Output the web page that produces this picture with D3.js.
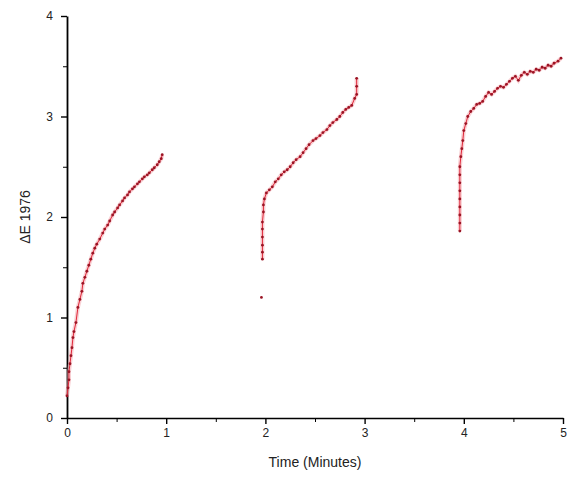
<!DOCTYPE html>
<html>
<head>
<meta charset="utf-8">
<script src="https://cdn.jsdelivr.net/npm/d3@7"></script>
<style>
  body { margin: 0; background: #fff; }
  svg { font-family: Arial, "Liberation Sans", sans-serif; }
</style>
</head>
<body>
<div id="chart"></div>
<script>
// first run (0 - 1 min)
const run1Time = [0.00, 0.01, 0.02, 0.02, 0.03, 0.04, 0.05, 0.06, 0.07, 0.09, 0.11, 0.13, 0.15, 0.16, 0.18, 0.20,
    0.22, 0.24, 0.26, 0.28, 0.30, 0.33, 0.36, 0.38, 0.41, 0.43, 0.46, 0.48, 0.51, 0.53, 0.56, 0.58, 0.61, 0.63,
    0.66, 0.68, 0.71, 0.73, 0.76, 0.78, 0.81, 0.83, 0.86, 0.88, 0.91, 0.93, 0.95, 0.96];
const run1Value = [0.22, 0.30, 0.38, 0.46, 0.54, 0.62, 0.70, 0.80, 0.86, 0.95, 1.10, 1.18, 1.26, 1.34, 1.40, 1.46,
    1.52, 1.58, 1.64, 1.69, 1.73, 1.78, 1.84, 1.88, 1.92, 1.96, 2.02, 2.05, 2.09, 2.12, 2.16, 2.19, 2.22, 2.25,
    2.28, 2.30, 2.33, 2.35, 2.38, 2.40, 2.42, 2.44, 2.47, 2.49, 2.52, 2.55, 2.58, 2.62];

// second run (2 - 3 min)
const run2Time = [1.96, 1.97, 1.97, 1.97, 1.97, 1.97, 1.97, 1.98, 1.98, 1.99, 2.01, 2.04, 2.07, 2.10, 2.13, 2.16,
    2.19, 2.22, 2.25, 2.28, 2.31, 2.35, 2.38, 2.41, 2.44, 2.48, 2.51, 2.55, 2.58, 2.62, 2.65, 2.68, 2.72, 2.75,
    2.78, 2.81, 2.84, 2.87, 2.90, 2.92, 2.92, 2.92];
const run2Value = [1.20, 1.58, 1.65, 1.72, 1.80, 1.88, 1.95, 2.05, 2.12, 2.18, 2.24, 2.27, 2.30, 2.35, 2.38, 2.42,
    2.45, 2.47, 2.50, 2.54, 2.57, 2.60, 2.64, 2.68, 2.72, 2.76, 2.78, 2.81, 2.84, 2.87, 2.91, 2.94, 2.97, 3.00,
    3.04, 3.07, 3.09, 3.11, 3.18, 3.22, 3.30, 3.38];

// third run (4 - 5 min)
const run3Time = [3.96, 3.96, 3.96, 3.96, 3.96, 3.96, 3.96, 3.96, 3.96, 3.97, 3.98, 3.99, 4.00, 4.02, 4.04, 4.07,
    4.10, 4.13, 4.16, 4.19, 4.22, 4.25, 4.28, 4.31, 4.34, 4.37, 4.40, 4.43, 4.46, 4.49, 4.52, 4.55, 4.58, 4.61,
    4.64, 4.67, 4.70, 4.73, 4.76, 4.79, 4.82, 4.85, 4.88, 4.91, 4.95, 4.98];
const run3Value = [1.86, 1.94, 2.02, 2.10, 2.18, 2.26, 2.34, 2.42, 2.50, 2.60, 2.68, 2.76, 2.86, 2.93, 3.00, 3.05,
    3.08, 3.12, 3.13, 3.15, 3.20, 3.24, 3.22, 3.25, 3.28, 3.30, 3.29, 3.32, 3.35, 3.38, 3.40, 3.36, 3.41, 3.44,
    3.42, 3.45, 3.44, 3.47, 3.46, 3.49, 3.48, 3.51, 3.50, 3.53, 3.55, 3.58];

const xTicks = [0, 1, 2, 3, 4, 5];
const yTicks = [0, 1, 2, 3, 4];

const width = 575, height = 481;
const margin = ({top: 16, right: 12, bottom: 63, left: 67});

const runs = [
    run1Time.map((t, i) => ({t, v: run1Value[i]})),
    run2Time.map((t, i) => ({t, v: run2Value[i]})),
    run3Time.map((t, i) => ({t, v: run3Value[i]}))
];

// the instrument drops a reading now and then: break the trace where the jump is big
function splitGaps(run) {
    const parts = [[run[0]]];
    for (let i = 1; i < run.length; i++) {
        if (Math.abs(run[i].v - run[i - 1].v) > 0.3) parts.push([]);
        parts[parts.length - 1].push(run[i]);
    }
    return parts.filter(p => p.length > 1);
}
const traces = runs.flatMap(splitGaps);

const x = d3.scaleLinear([0, 5], [margin.left, width - margin.right]);
const y = d3.scaleLinear([0, 4], [height - margin.bottom, margin.top]);

const svg = d3.select("#chart")
    .append("svg")
    .attr("width", width)
    .attr("height", height);

// minor ticks first, majors drawn over them
svg.append("g")
    .attr("transform", `translate(0,${height - margin.bottom})`)
    .call(d3.axisBottom(x).tickValues(d3.range(0.5, 5, 1)).tickSize(4).tickFormat(""))
    .call(g => g.select(".domain").remove());
svg.append("g")
    .attr("transform", `translate(${margin.left},0)`)
    .call(d3.axisLeft(y).tickValues(d3.range(0.5, 4, 1)).tickSize(4).tickFormat(""))
    .call(g => g.select(".domain").remove());

svg.append("g")
    .attr("transform", `translate(0,${height - margin.bottom})`)
    .call(d3.axisBottom(x).tickValues(xTicks).tickSize(6).tickPadding(4).tickSizeOuter(0).tickFormat(d3.format("d")))
    .call(g => g.select(".domain").attr("stroke-width", 1.6))
    .call(g => g.selectAll(".tick line").attr("stroke-width", 1.4))
    .call(g => g.selectAll("text").attr("font-size", 12).attr("fill", "#222"));

svg.append("g")
    .attr("transform", `translate(${margin.left},0)`)
    .call(d3.axisLeft(y).tickValues(yTicks).tickSize(6).tickPadding(8).tickSizeOuter(0).tickFormat(d3.format("d")))
    .call(g => g.select(".domain").attr("stroke-width", 1.8))
    .call(g => g.selectAll(".tick line").attr("stroke-width", 1.4))
    .call(g => g.selectAll("text").attr("font-size", 12).attr("fill", "#222"));

svg.append("text")
    .attr("x", (margin.left + width - margin.right) / 2)
    .attr("y", 467)
    .attr("text-anchor", "middle")
    .attr("font-size", 14)
    .attr("fill", "#222")
    .text("Time (Minutes)");

svg.append("text")
    .attr("transform", `translate(30,${(margin.top + height - margin.bottom) / 2}) rotate(-90)`)
    .attr("text-anchor", "middle")
    .attr("font-size", 14)
    .attr("fill", "#222")
    .text("ΔE 1976");

const line = d3.line().x(d => x(d.t)).y(d => y(d.v));

const plot = svg.append("g");

plot.selectAll("path.glow")
    .data(traces)
    .join("path")
    .attr("class", "glow")
    .attr("fill", "none")
    .attr("stroke", "#f4a0a8")
    .attr("stroke-opacity", 0.5)
    .attr("stroke-width", 4)
    .attr("d", line);

plot.selectAll("path.run")
    .data(traces)
    .join("path")
    .attr("class", "run")
    .attr("fill", "none")
    .attr("stroke", "#e0283a")
    .attr("stroke-width", 1)
    .attr("d", line);

plot.selectAll("circle")
    .data(runs.flat())
    .join("circle")
    .attr("cx", d => x(d.t))
    .attr("cy", d => y(d.v))
    .attr("r", 1.4)
    .attr("fill", "#9a1424");
</script>
</body>
</html>
